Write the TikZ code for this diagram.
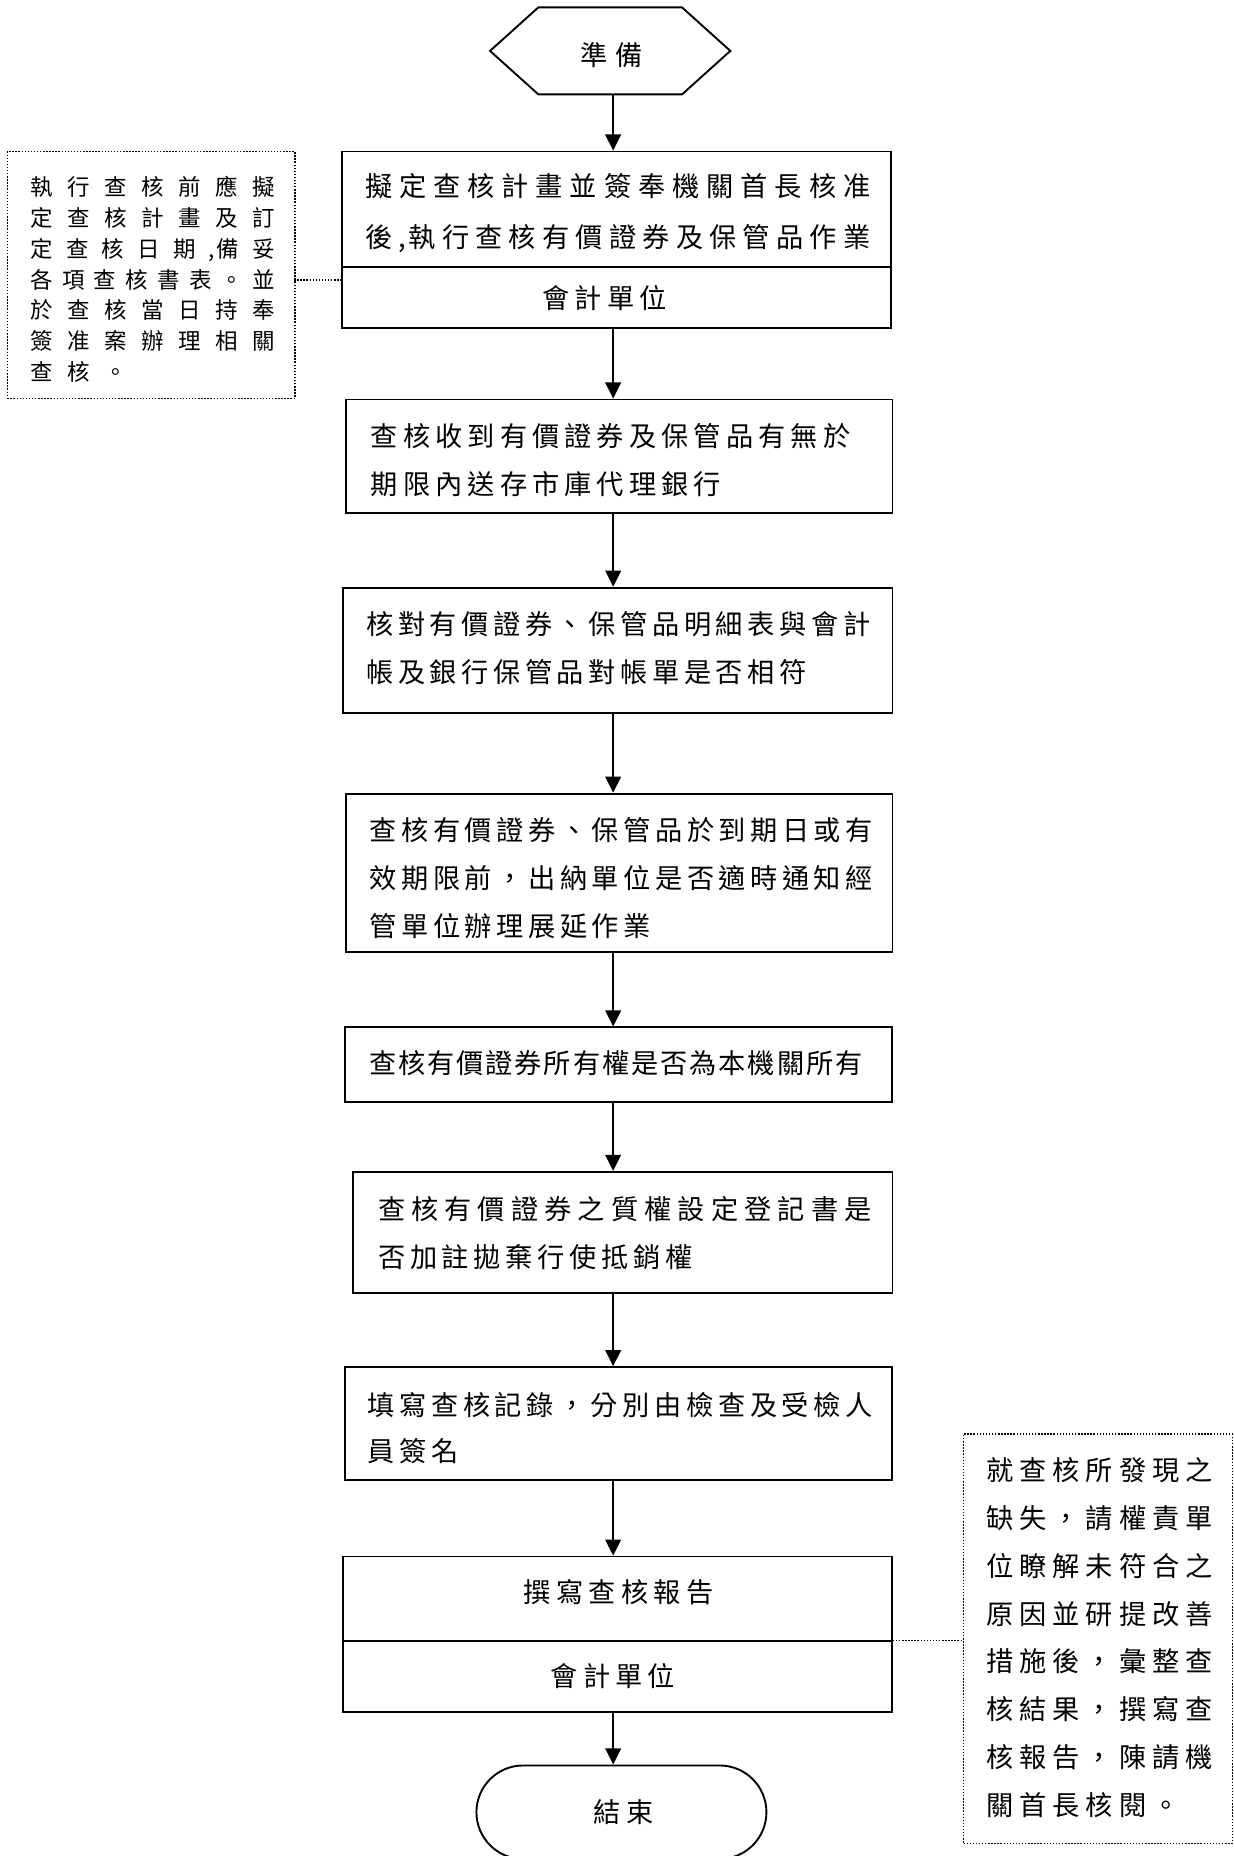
\documentclass[tikz,border=0pt]{standalone}
\usepackage{fontspec}
\setmainfont{Noto Sans CJK TC}
\usetikzlibrary{shapes.symbols,shapes.misc,arrows.meta}
\ExplSyntaxOn
\NewDocumentCommand{\gl}{m m}{\tl_map_inline:nn {#2}{\makebox[#1][l]{##1}}}
\ExplSyntaxOff
\tikzset{
  frame/.style={draw, line width=0.8pt, inner sep=0pt},
  txt/.style={inner sep=0pt, anchor=west, align=left, font=\fontsize{11.5}{20.2}\selectfont},
  arr/.style={line width=0.8pt, -{Triangle[width=6.6pt,length=6.8pt]}},
  dots/.style={line width=0.6pt, dash pattern=on 0.6pt off 0.7pt},
}
\begin{document}
\begin{tikzpicture}[x=0.5pt,y=-0.5pt]
\useasboundingbox (0,0) rectangle (1042,1568);
\coordinate (axis) at (518,0);
% start hexagon
\node[frame, signal, signal to=east and west, signal pointer angle=84,
      minimum width=101.5pt, minimum height=36.75pt] (prep) at (515.5,43) {};
\node[txt] (tprep) at (490,46.5) {\gl{15pt}{準備}};
% box 1
\node[frame, minimum width=232pt, minimum height=74.5pt] (b1) at (521,202.5) {};
\draw[line width=0.8pt] (b1.west |- 0,225.5) -- (b1.east |- 0,225.5);
\node[txt, font=\fontsize{11.5}{21.2}\selectfont] (t1) at (308,180)
  {\gl{14.43pt}{擬定查核計畫並簽奉機關首長核准}\\
   \gl{14.12pt}{後}\makebox[4.3pt][l]{,}\gl{14.12pt}{執行查核有價證券及保管品作業}};
\node[txt] (t1b) at (458,251.4) {\gl{13.67pt}{會計單位}};
% box 2
\node[frame, minimum width=231pt, minimum height=48pt] (b2) at (523,385.5) {};
\node[txt] (t2) at (313,388.4)
  {\gl{13.64pt}{查核收到有價證券及保管品有無於}\\
   \gl{13.64pt}{期限內送存市庫代理銀行}};
% box 3
\node[frame, minimum width=232pt, minimum height=53pt] (b3) at (522,549.5) {};
\node[txt] (t3) at (309,547.7)
  {\gl{13.43pt}{核對有價證券、保管品明細表與會計}\\
   \gl{13.43pt}{帳及銀行保管品對帳單是否相符}};
% box 4
\node[frame, minimum width=231pt, minimum height=67pt] (b4) at (523,737.5) {};
\node[txt] (t4) at (312,741.6)
  {\gl{13.4pt}{查核有價證券、保管品於到期日或有}\\
   \gl{13.4pt}{效期限前，出納單位是否適時通知經}\\
   \gl{13.4pt}{管單位辦理展延作業}};
% box 5
\node[frame, minimum width=231pt, minimum height=31.5pt] (b5) at (522.5,899.5) {};
\node[txt] (t5) at (311.4,898) {\gl{12.31pt}{查核有價證券所有權是否為本機關所有}};
% box 6
\node[frame, minimum width=228pt, minimum height=51pt] (b6) at (526,1041) {};
\node[txt] (t6) at (319,1041.9)
  {\gl{14.07pt}{查核有價證券之質權設定登記書是}\\
   \gl{13.5pt}{否加註拋棄行使抵銷權}};
% box 7
\node[frame, minimum width=231pt, minimum height=47.5pt] (b7) at (522.5,1202.5) {};
\node[txt, font=\fontsize{11.5}{19.6}\selectfont] (t7) at (310,1206.4)
  {\gl{13.47pt}{填寫查核記錄，分別由檢查及受檢人}\\
   \gl{13.47pt}{員簽名}};
% box 8
\node[frame, minimum width=232pt, minimum height=65.5pt] (b8) at (521.5,1380.5) {};
\draw[line width=0.8pt] (b8.west |- 0,1386) -- (b8.east |- 0,1386);
\node[txt] (t8) at (442,1345.5) {\gl{13.76pt}{撰寫查核報告}};
\node[txt] (t8b) at (465,1415.6) {\gl{13.67pt}{會計單位}};
% end
\node[frame, rounded rectangle, minimum width=122.5pt, minimum height=39.5pt] (stop) at (525,1531) {};
\node[txt] (tstop) at (501,1531) {\gl{14pt}{結束}};
% arrows
\draw[arr] (prep.south -| axis) -- (b1.north -| axis);
\draw[arr] (b1.south -| axis) -- (b2.north -| axis);
\draw[arr] (b2.south -| axis) -- (b3.north -| axis);
\draw[arr] (b3.south -| axis) -- (b4.north -| axis);
\draw[arr] (b4.south -| axis) -- (b5.north -| axis);
\draw[arr] (b5.south -| axis) -- (b6.north -| axis);
\draw[arr] (b6.south -| axis) -- (b7.north -| axis);
\draw[arr] (b7.south -| axis) -- (b8.north -| axis);
\draw[arr] (b8.south -| axis) -- (stop.north -| axis);
% left note
\node[dots, draw, inner sep=0pt, minimum width=121.5pt, minimum height=104.2pt] (n1) at (127.7,232.4) {};
\node[inner sep=0pt, anchor=west, align=left, font=\fontsize{9.5}{13}\selectfont] (tn1) at (25.4,236)
  {\gl{15.63pt}{執行查核前應擬}\\
   \gl{15.63pt}{定查核計畫及訂}\\
   \gl{15.05pt}{定查核日期}\makebox[3.5pt][l]{,}\gl{15.05pt}{備妥}\\
   \gl{13.4pt}{各項查核書表。並}\\
   \gl{15.63pt}{於查核當日持奉}\\
   \gl{15.63pt}{簽准案辦理相關}\\
   \gl{15.63pt}{查核。}};
\coordinate (c1) at (248.5,236.6);
\draw[dots] (c1) -- (c1 -| b1.west);
% right note
\node[dots, draw, inner sep=0pt, minimum width=113.5pt, minimum height=173pt] (n2) at (927.5,1384.5) {};
\node[txt] (tn2) at (833,1383.5)
  {\gl{14pt}{就查核所發現之}\\
   \gl{14pt}{缺失，請權責單}\\
   \gl{14pt}{位瞭解未符合之}\\
   \gl{14pt}{原因並研提改善}\\
   \gl{14pt}{措施後，彙整查}\\
   \gl{14pt}{核結果，撰寫查}\\
   \gl{14pt}{核報告，陳請機}\\
   \gl{14pt}{關首長核閱。}};
\coordinate (c2) at (0,1386);
\draw[dots] (c2 -| b8.east) -- (c2 -| n2.west);
\end{tikzpicture}
\end{document}
